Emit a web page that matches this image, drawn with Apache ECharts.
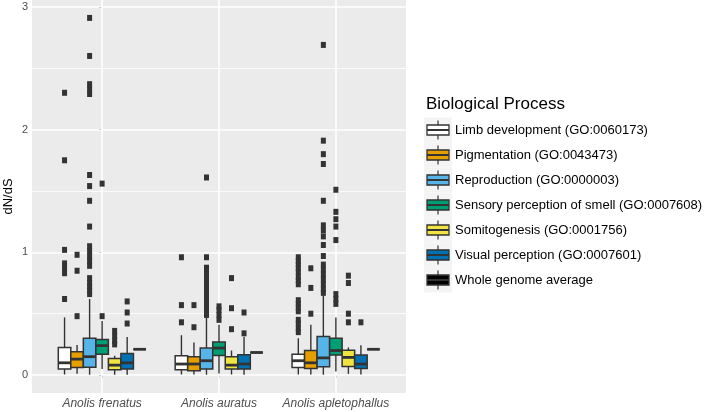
<!DOCTYPE html>
<html><head><meta charset="utf-8">
<script src="https://cdn.jsdelivr.net/npm/echarts@6/dist/echarts.min.js"></script>
<style>html,body{margin:0;padding:0;background:#fff}#c{width:707px;height:412px}</style>
</head><body><div id="c"></div>
<script>
// ---------- data ----------
const categories = ['Anolis frenatus', 'Anolis auratus', 'Anolis apletophallus'];
const processes = [
  'Limb development (GO:0060173)',
  'Pigmentation (GO:0043473)',
  'Reproduction (GO:0000003)',
  'Sensory perception of smell (GO:0007608)',
  'Somitogenesis (GO:0001756)',
  'Visual perception (GO:0007601)',
  'Whole genome average'
];
const legendTitle = 'Biological Process';
const yAxisTitle = 'dN/dS';
const yTicks = [0, 1, 2, 3];
const yMinorTicks = [0.5, 1.5, 2.5];

// per category: [lower whisker, Q1, median, Q3, upper whisker]
const limbStats = [[0.005, 0.05, 0.10, 0.225, 0.47], [0.005, 0.043, 0.09, 0.157, 0.325], [0.005, 0.062, 0.117, 0.17, 0.30]];
const pigmentStats = [[0.01, 0.062, 0.13, 0.19, 0.245], [0.005, 0.035, 0.09, 0.15, 0.266], [0.005, 0.054, 0.10, 0.20, 0.41]];
const reproStats = [[0.003, 0.063, 0.15, 0.30, 0.62], [0.003, 0.049, 0.117, 0.22, 0.47], [0.003, 0.068, 0.14, 0.315, 0.65]];
const smellStats = [[0.05, 0.17, 0.24, 0.29, 0.44], [0.012, 0.16, 0.22, 0.27, 0.41], [0.03, 0.163, 0.20, 0.30, 0.47]];
const somitoStats = [[0.003, 0.043, 0.081, 0.135, 0.157], [0.005, 0.049, 0.081, 0.15, 0.20], [0.01, 0.07, 0.144, 0.203, 0.225]];
const visualStats = [[0.003, 0.049, 0.10, 0.176, 0.31], [0.003, 0.049, 0.09, 0.165, 0.31], [0.005, 0.054, 0.09, 0.163, 0.244]];
const wholeStats = [[0.21, 0.21, 0.21, 0.21, 0.21], [0.184, 0.184, 0.184, 0.184, 0.184], [0.21, 0.21, 0.21, 0.21, 0.21]];

// outliers per category
const limbOutliers = [[2.30, 1.75, 1.02, 0.91, 0.87, 0.83, 0.62], [0.96, 0.57, 0.43], [0.96, 0.93, 0.90, 0.87, 0.84, 0.80, 0.77, 0.74, 0.61, 0.58, 0.55, 0.52, 0.45, 0.42, 0.38, 0.35]];
const pigmentOutliers = [[0.98, 0.85, 0.48], [0.57, 0.39], [0.87, 0.71, 0.50]];
const reproOutliers = [[2.91, 2.60, 2.37, 2.33, 2.29, 1.63, 1.54, 1.42, 1.21, 1.05, 1.01, 0.97, 0.93, 0.89, 0.79, 0.75, 0.72, 0.69, 0.66],
  [1.61, 0.96, 0.875, 0.85, 0.82, 0.79, 0.76, 0.73, 0.70, 0.67, 0.64, 0.61, 0.58, 0.55, 0.52, 0.49],
  [2.69, 1.91, 1.80, 1.72, 1.42, 1.22, 1.18, 1.13, 1.06, 0.97, 0.90, 0.86, 0.82, 0.78, 0.74, 0.70, 0.67]];
const smellOutliers = [[1.56, 0.48], [0.56, 0.53, 0.49, 0.45], [1.51, 1.33, 1.27, 1.21, 1.10, 0.66, 0.62, 0.58]];
const somitoOutliers = [[0.36, 0.32, 0.28, 0.25], [0.79, 0.545, 0.374], [0.81, 0.75, 0.50, 0.43]];
const visualOutliers = [[0.60, 0.51, 0.42], [0.51, 0.34], [0.43]];
const wholeOutliers = [[], [], []];

const allStats = [limbStats, pigmentStats, reproStats, smellStats, somitoStats, visualStats, wholeStats];
const allOutliers = [limbOutliers, pigmentOutliers, reproOutliers, smellOutliers, somitoOutliers, visualOutliers, wholeOutliers];

// ---------- styles ----------
const colors = ['#FFFFFF', '#E69F00', '#56B4E9', '#009E73', '#F0E442', '#0072B2', '#000000'];
const FONT = '"Liberation Sans", Arial, Helvetica, sans-serif';
const STROKE = '#333333';
const N = processes.length;

function boxX(api, cat, k) {
  const band = api.size([1, 0])[0];
  const w = band * 0.75 / N;
  const cx = api.coord([cat, 0])[0] + (k - (N - 1) / 2) * w;
  return { cx: cx, w: w };
}

function boxRender(k) {
  return function (params, api) {
    const cat = api.value(0);
    const p = boxX(api, cat, k);
    const yLo = api.coord([cat, api.value(1)])[1];
    const yQ1 = api.coord([cat, api.value(2)])[1];
    const yMed = api.coord([cat, api.value(3)])[1];
    const yQ3 = api.coord([cat, api.value(4)])[1];
    const yHi = api.coord([cat, api.value(5)])[1];
    const x0 = p.cx - p.w / 2;
    return {
      type: 'group',
      children: [
        { type: 'line', shape: { x1: p.cx, y1: yHi, x2: p.cx, y2: yQ3 }, style: { stroke: STROKE, lineWidth: 1.4 } },
        { type: 'line', shape: { x1: p.cx, y1: yQ1, x2: p.cx, y2: yLo }, style: { stroke: STROKE, lineWidth: 1.4 } },
        { type: 'rect', shape: { x: x0, y: yQ3, width: p.w, height: yQ1 - yQ3 }, style: { fill: colors[k], stroke: STROKE, lineWidth: 1.5 } },
        { type: 'line', shape: { x1: x0, y1: yMed, x2: x0 + p.w, y2: yMed }, style: { stroke: STROKE, lineWidth: 2.8 } }
      ]
    };
  };
}

function outlierRender(k) {
  return function (params, api) {
    const cat = api.value(0);
    const p = boxX(api, cat, k);
    const y = api.coord([cat, api.value(1)])[1];
    return { type: 'rect', shape: { x: p.cx - 2.5, y: y - 3, width: 5, height: 6 }, style: { fill: STROKE } };
  };
}

const series = [];
// gridlines through the axis scales
series.push({
  type: 'line', data: [], silent: true, z: 1,
  markLine: {
    z: 1, silent: true, symbol: ['none', 'none'], label: { show: false }, animation: false,
    data: [].concat(
      yMinorTicks.map(v => ({ yAxis: v, lineStyle: { color: '#FFFFFF', width: 0.8, type: 'solid' } })),
      yTicks.map(v => ({ yAxis: v, lineStyle: { color: '#FFFFFF', width: 1.6, type: 'solid' } })),
      categories.map((c, i) => ({ xAxis: i, lineStyle: { color: '#FFFFFF', width: 1.6, type: 'solid' } }))
    )
  }
});
for (let k = 0; k < N; k++) {
  series.push({
    type: 'custom', name: processes[k], z: 10,
    renderItem: boxRender(k),
    encode: { x: 0, y: [1, 2, 3, 4, 5] },
    data: allStats[k].map((s, ci) => [ci].concat(s))
  });
  const od = [];
  allOutliers[k].forEach((arr, ci) => arr.forEach(v => od.push([ci, v])));
  series.push({
    type: 'custom', name: processes[k] + ' outliers', z: 11,
    renderItem: outlierRender(k),
    encode: { x: 0, y: 1 },
    data: od
  });
}

// legend drawn as graphics (ggplot-style box keys)
const graphics = [];
const lgX = 427, lgY0 = 130, lgStep = 25;
graphics.push({ type: 'text', left: 426, top: 96, style: { text: legendTitle, font: '17px ' + FONT, fill: '#000' } });
processes.forEach((name, i) => {
  const cy = lgY0 + i * lgStep;
  graphics.push({ type: 'rect', shape: { x: 424, y: cy - lgStep / 2, width: 28, height: lgStep }, style: { fill: '#F4F4F4' }, silent: true });
  graphics.push({ type: 'line', shape: { x1: lgX + 11, y1: cy - 9.5, x2: lgX + 11, y2: cy - 5 }, style: { stroke: STROKE, lineWidth: 1.2 } });
  graphics.push({ type: 'line', shape: { x1: lgX + 11, y1: cy + 5, x2: lgX + 11, y2: cy + 9.5 }, style: { stroke: STROKE, lineWidth: 1.2 } });
  graphics.push({ type: 'rect', shape: { x: lgX, y: cy - 5, width: 22, height: 10 }, style: { fill: colors[i], stroke: STROKE, lineWidth: 1.3 } });
  graphics.push({ type: 'line', shape: { x1: lgX, y1: cy, x2: lgX + 22, y2: cy }, style: { stroke: STROKE, lineWidth: 2 } });
  graphics.push({ type: 'text', x: 455, y: cy, style: { text: name, font: '13px ' + FONT, fill: '#000', verticalAlign: 'middle', align: 'left' } });
});

const chart = echarts.init(document.getElementById('c'), null, { renderer: 'canvas' });
chart.setOption({
  animation: false,
  backgroundColor: '#FFFFFF',
  grid: { left: 32, right: 301, top: 0, bottom: 19, show: true, backgroundColor: '#EBEBEB', borderWidth: 0, containLabel: false, outerBoundsMode: 'none' },
  xAxis: {
    type: 'value', min: -0.6, max: 2.6,
    axisLine: { show: false },
    splitLine: { show: false },
    axisTick: { show: true, length: 3, customValues: [0, 1, 2], lineStyle: { color: STROKE, width: 1 } },
    axisLabel: {
      customValues: [0, 1, 2], formatter: v => categories[Math.round(v)],
      fontStyle: 'italic', fontSize: 12, fontFamily: FONT, color: '#4D4D4D', margin: 5
    }
  },
  yAxis: {
    type: 'value', min: -0.146, max: 3.056,
    name: yAxisTitle, nameLocation: 'middle', nameGap: 17, nameRotate: 90, nameMoveOverlap: false,
    nameTextStyle: { fontSize: 13, fontFamily: FONT, color: '#000' },
    axisLine: { show: false },
    splitLine: { show: false },
    axisTick: { show: true, length: 3, customValues: yTicks, lineStyle: { color: STROKE, width: 1 } },
    axisLabel: { customValues: yTicks, fontSize: 11, fontFamily: FONT, color: '#4D4D4D', margin: 4 }
  },
  series: series,
  graphic: graphics
});
</script>
</body></html>
